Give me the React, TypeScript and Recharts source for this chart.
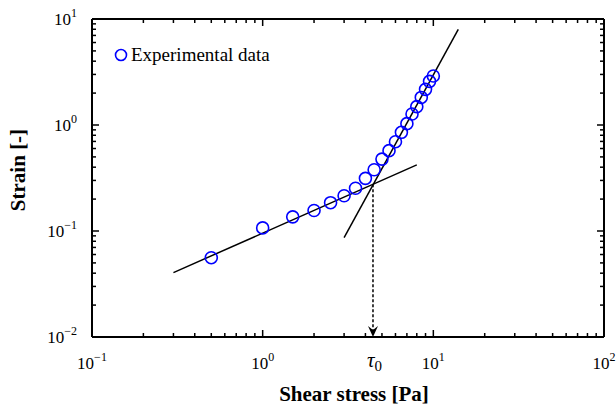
import React from 'react';
import {
  ScatterChart,
  Scatter,
  XAxis,
  YAxis,
  Legend,
  ReferenceLine
} from 'recharts';

// measured points
const stress = [0.5, 1.0, 1.5, 2.0, 2.5, 3.0, 3.5, 4.0, 4.5, 5.0, 5.5, 6.0, 6.5, 7.0, 7.5, 8.0, 8.5, 9.0, 9.5, 10.0];
const strain = [0.056, 0.107, 0.136, 0.156, 0.185, 0.215, 0.253, 0.314, 0.378, 0.477, 0.573, 0.696, 0.853, 1.03, 1.27, 1.49, 1.82, 2.17, 2.58, 2.9];

// power-law fit lines (end points)
const lowFitX = [0.3, 8];
const lowFitY = [0.0405, 0.42];
const highFitX = [3, 14];
const highFitY = [0.0866, 8.0];

// yield stress (intersection of the two fits)
const tau0 = 4.43;
const tau0Strain = 0.276;

const xDecades = [0.1, 1, 10, 100];
const yDecades = [0.01, 0.1, 1, 10];
const xDecadeExp = ['−1', '0', '1', '2'];
const yDecadeExp = ['−2', '−1', '0', '1'];
const minorSteps = [2, 3, 4, 5, 6, 7, 8, 9];

const FONT = '"Liberation Serif", "Times New Roman", serif';
const W = 616;
const H = 407;
const margin = { top: 19, right: 12, left: 0, bottom: 0 };
const Y_AXIS_W = 92;
const X_AXIS_H = 70;
const PLOT_H = H - margin.top - X_AXIS_H;
const PLOT_W = W - margin.left - margin.right - Y_AXIS_W;
const MAJOR = 7;
const MINOR = 4;

const withMinors = (decades: number[]) => {
  const out: number[] = [];
  decades.forEach((d, i) => {
    out.push(d);
    if (i < decades.length - 1) minorSteps.forEach(m => out.push(Number((d * m).toPrecision(3))));
  });
  return out;
};

const xTicks = [...withMinors(xDecades), tau0];
const yTicks = withMinors(yDecades);

const points = stress.map((x, i) => ({ x, y: strain[i] }));
const lowFit = lowFitX.map((x, i) => ({ x, y: lowFitY[i] }));
const highFit = highFitX.map((x, i) => ({ x, y: highFitY[i] }));

const XTick = (props: any) => {
  const { x, y, payload } = props;
  const v = payload.value;
  if (v === tau0) {
    return (
      <text x={x - 6} y={y + 30} fontFamily={FONT} fontSize={21} fill="#000">
        <tspan fontStyle="italic">τ</tspan>
        <tspan fontSize={15} dy={4}>0</tspan>
      </text>
    );
  }
  const idx = xDecades.indexOf(v);
  const len = idx >= 0 ? MAJOR : MINOR;
  const top = y - PLOT_H;
  return (
    <g>
      <line x1={x} y1={y} x2={x} y2={y - len} stroke="#000" strokeWidth={1.5} />
      <line x1={x} y1={top} x2={x} y2={top + len} stroke="#000" strokeWidth={1.5} />
      {idx >= 0 && (
        <text x={x} y={y + 32} textAnchor="middle" fontFamily={FONT} fontSize={17} fill="#000">
          <tspan>10</tspan>
          <tspan fontSize={12} dy={-8}>{xDecadeExp[idx]}</tspan>
        </text>
      )}
    </g>
  );
};

const YTick = (props: any) => {
  const { x, y, payload } = props;
  const v = payload.value;
  const idx = yDecades.indexOf(v);
  const len = idx >= 0 ? MAJOR : MINOR;
  const right = x + PLOT_W;
  return (
    <g>
      <line x1={x} y1={y} x2={x + len} y2={y} stroke="#000" strokeWidth={1.5} />
      <line x1={right} y1={y} x2={right - len} y2={y} stroke="#000" strokeWidth={1.5} />
      {idx >= 0 && (
        <text x={x - 15} y={y + 6} textAnchor="end" fontFamily={FONT} fontSize={17} fill="#000">
          <tspan>10</tspan>
          <tspan fontSize={12} dy={-8}>{yDecadeExp[idx]}</tspan>
        </text>
      )}
    </g>
  );
};

const XTitle = (props: any) => {
  const { viewBox } = props;
  return (
    <text x={viewBox.x + viewBox.width / 2 + 6} y={viewBox.y + viewBox.height - 6} textAnchor="middle"
      fontFamily={FONT} fontSize={21} fontWeight="bold" fill="#000">
      Shear stress [Pa]
    </text>
  );
};

const YTitle = (props: any) => {
  const { viewBox } = props;
  const cx = 25;
  const cy = viewBox.y + viewBox.height / 2 - 8;
  return (
    <text x={cx} y={cy} transform={`rotate(-90, ${cx}, ${cy})`} textAnchor="middle"
      fontFamily={FONT} fontSize={21} fontWeight="bold" fill="#000">
      Strain [-]
    </text>
  );
};

const Circle = (props: any) => (
  <circle cx={props.cx} cy={props.cy} r={6} fill="none" stroke="#0000ff" strokeWidth={1.6} />
);

const NoDot = () => <g />;

const ArrowLine = (props: any) => {
  const { x1, y1, x2, y2 } = props;
  return (
    <g>
      <line x1={x1} y1={y1} x2={x2} y2={y2 - 6} stroke="#000" strokeWidth={1.5} strokeDasharray="3 2" />
      <path d={`M${x2},${y2} L${x2 - 5},${y2 - 11} L${x2},${y2 - 7} L${x2 + 5},${y2 - 11} Z`} fill="#000" />
    </g>
  );
};

const LegendBox = () => (
  <div style={{ display: 'flex', alignItems: 'center', fontFamily: FONT, fontSize: 19 }}>
    <svg width={14} height={14} style={{ marginRight: 3 }}>
      <circle cx={7} cy={7} r={5.5} fill="none" stroke="#0000ff" strokeWidth={1.6} />
    </svg>
    <span>Experimental data</span>
  </div>
);

const frame = { stroke: '#000', strokeWidth: 2 };

export default function App() {
  return (
    <div style={{ position: 'absolute', left: 0, top: 0, background: '#fff' }}>
      <ScatterChart width={W} height={H} margin={margin}>
        <XAxis
          type="number"
          dataKey="x"
          scale="log"
          domain={[0.1, 100]}
          ticks={xTicks}
          interval={0}
          allowDataOverflow
          height={X_AXIS_H}
          axisLine={false}
          tickLine={false}
          tickSize={0}
          tickMargin={0}
          tick={<XTick />}
          label={<XTitle />}
        />
        <YAxis
          type="number"
          dataKey="y"
          scale="log"
          domain={[0.01, 10]}
          ticks={yTicks}
          interval={0}
          allowDataOverflow
          width={Y_AXIS_W}
          axisLine={false}
          tickLine={false}
          tickSize={0}
          tickMargin={0}
          tick={<YTick />}
          label={<YTitle />}
        />
        <ReferenceLine x={0.1} {...frame} ifOverflow="visible" />
        <ReferenceLine x={100} {...frame} ifOverflow="visible" />
        <ReferenceLine y={0.01} {...frame} ifOverflow="visible" />
        <ReferenceLine y={10} {...frame} ifOverflow="visible" />
        <Scatter data={lowFit} line={{ stroke: '#000', strokeWidth: 1.5 }} shape={<NoDot />} legendType="none" isAnimationActive={false} />
        <Scatter data={highFit} line={{ stroke: '#000', strokeWidth: 1.5 }} shape={<NoDot />} legendType="none" isAnimationActive={false} />
        <ReferenceLine
          segment={[{ x: tau0, y: tau0Strain }, { x: tau0, y: 0.01 }]}
          shape={<ArrowLine />}
        />
        <Scatter name="Experimental data" data={points} shape={<Circle />} isAnimationActive={false} />
        <Legend
          layout="horizontal"
          verticalAlign="middle"
          align="center"
          content={<LegendBox />}
          wrapperStyle={{ top: 44, left: 114, width: 'auto' }}
        />
      </ScatterChart>
    </div>
  );
}
